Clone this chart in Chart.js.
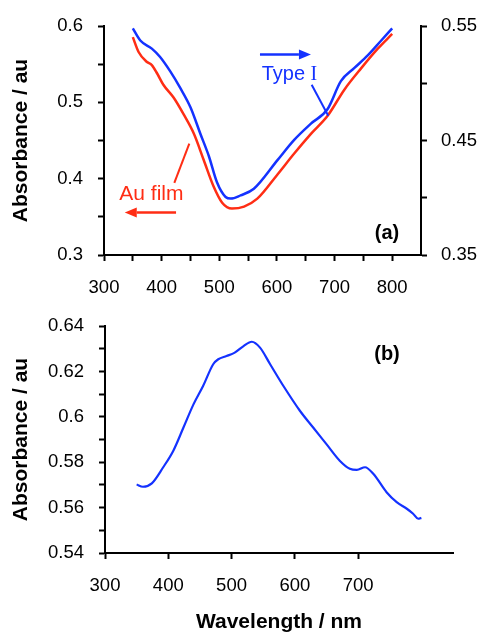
<!DOCTYPE html>
<html>
<head>
<meta charset="utf-8">
<script src="https://cdn.jsdelivr.net/npm/chart.js@4.4.0/dist/chart.umd.min.js"></script>
<style>
  html, body { margin: 0; padding: 0; background: #fff; }
  #wrap { position: relative; width: 479px; height: 633px; overflow: hidden; background: #fff; }
  canvas { position: absolute; left: 0; }
  #chartA { top: 0; }
  #chartB { top: 300px; }
</style>
</head>
<body>
<div id="wrap">
  <canvas id="chartA" width="479" height="300"></canvas>
  <canvas id="chartB" width="479" height="333"></canvas>
</div>
<script>
// ---- (a) Au film (left axis) and Type I (right axis) spectra ----
const auFilmNm  = [350, 360, 374, 383, 392, 403, 421, 438, 456, 473, 490, 505, 522, 543, 566, 601, 630, 659, 688, 717, 746, 775, 800];
const auFilmAbs = [0.5855, 0.5661, 0.5533, 0.5489, 0.5382, 0.5231, 0.5060, 0.4845, 0.4588, 0.4245, 0.3901, 0.3686, 0.3609, 0.3635, 0.3738, 0.4056, 0.4330, 0.4588, 0.4825, 0.5167, 0.5446, 0.5704, 0.5897];

const typeINm  = [350, 363, 383, 397, 415, 432, 450, 467, 482, 496, 511, 520, 537, 560, 601, 630, 659, 688, 711, 734, 758, 781, 800];
const typeIAbs = [0.5480, 0.5374, 0.5303, 0.5232, 0.5104, 0.4962, 0.4791, 0.4562, 0.4363, 0.4135, 0.4007, 0.3993, 0.4021, 0.4079, 0.4329, 0.4506, 0.4648, 0.4776, 0.5019, 0.5132, 0.5246, 0.5374, 0.5480];

// ---- (b) difference spectrum ----
const specBNm  = [350, 360, 374, 392, 408, 424, 440, 455, 471, 479, 492, 505, 519, 532, 545, 561, 582, 608, 629, 650, 671, 687, 698, 711, 724, 745, 761, 777, 787, 795, 800];
const specBAbs = [0.5702, 0.5692, 0.5707, 0.5778, 0.5851, 0.5953, 0.6056, 0.6136, 0.6232, 0.6254, 0.6268, 0.6283, 0.6312, 0.6331, 0.6305, 0.6232, 0.6136, 0.6027, 0.5953, 0.5880, 0.5807, 0.5771, 0.5766, 0.5778, 0.5749, 0.5668, 0.5624, 0.5595, 0.5573, 0.5551, 0.5555];

// ---- tick labels ----
const xTickLabels      = [300, 400, 500, 600, 700, 800];
const leftTickLabelsA  = [0.3, 0.4, 0.5, 0.6];
const rightTickLabelsA = [0.35, 0.45, 0.55];
const leftTickLabelsB  = [0.54, 0.56, 0.58, 0.6, 0.62, 0.64];

const FONT = "'Liberation Sans', Arial, Helvetica, sans-serif";
const SERIF = "'Liberation Serif', 'Times New Roman', serif";
const BLUE = '#1432ff';
const RED = '#ff2d14';

const pairs = (xs, ys) => xs.map((x, i) => ({ x, y: ys[i] }));
const labelFrom = list => v => {
  const hit = list.find(l => Math.abs(l - v) < 1e-6);
  return hit === undefined ? '' : String(hit);
};

const tickFont = { family: FONT, size: 18.5 };
const titleFont = { family: FONT, size: 21, weight: 'bold', lineHeight: 1 };
const gridStyle = { display: true, drawOnChartArea: false, drawTicks: true, tickLength: 6, tickWidth: 2, tickColor: '#000' };
const borderStyle = { display: true, color: '#000', width: 2 };

function drawArrow(ctx, x1, y1, x2, y2, color, width) {
  const ang = Math.atan2(y2 - y1, x2 - x1);
  const head = 12, half = 5;
  const bx = x2 - head * Math.cos(ang), by = y2 - head * Math.sin(ang);
  ctx.save();
  ctx.strokeStyle = color; ctx.fillStyle = color; ctx.lineWidth = width;
  ctx.beginPath(); ctx.moveTo(x1, y1); ctx.lineTo(bx, by); ctx.stroke();
  ctx.beginPath();
  ctx.moveTo(x2, y2);
  ctx.lineTo(bx + half * Math.sin(ang), by - half * Math.cos(ang));
  ctx.lineTo(bx - half * Math.sin(ang), by + half * Math.cos(ang));
  ctx.closePath(); ctx.fill();
  ctx.restore();
}
function drawLine(ctx, x1, y1, x2, y2, color, width) {
  ctx.save();
  ctx.strokeStyle = color; ctx.lineWidth = width;
  ctx.beginPath(); ctx.moveTo(x1, y1); ctx.lineTo(x2, y2); ctx.stroke();
  ctx.restore();
}

// Labels, arrows and leader lines of panel (a), placed in data units
const annotateA = {
  id: 'annotateA',
  afterDatasetsDraw(chart) {
    const { ctx, scales } = chart;
    const X = v => scales.x.getPixelForValue(v);
    const Y = v => scales.y.getPixelForValue(v);
    ctx.save();
    // Au film
    ctx.font = `21px ${FONT}`;
    ctx.fillStyle = RED; ctx.textAlign = 'left'; ctx.textBaseline = 'alphabetic';
    ctx.fillText('Au film', X(326.5), Y(0.372));
    drawArrow(ctx, X(425), Y(0.3558), X(336), Y(0.3558), RED, 2.5);
    drawLine(ctx, X(448), Y(0.4459), X(422), Y(0.3945), RED, 2);
    // Type I
    ctx.fillStyle = BLUE;
    ctx.font = `20px ${FONT}`;
    const tx = X(573.6), ty = Y(0.5292);
    ctx.fillText('Type ', tx, ty);
    const w = ctx.measureText('Type ').width;
    ctx.font = `20px ${SERIF}`;
    ctx.fillText('I', tx + w, ty);
    drawArrow(ctx, X(570.6), Y(0.5627), X(659), Y(0.5627), BLUE, 2.5);
    drawLine(ctx, X(660.3), Y(0.5231), X(689.1), Y(0.4825), BLUE, 2);
    // panel tag
    ctx.fillStyle = '#000';
    ctx.font = `bold 20px ${FONT}`;
    ctx.textAlign = 'center'; ctx.textBaseline = 'middle';
    ctx.fillText('(a)', X(791), Y(0.3283));
    ctx.restore();
  }
};

const annotateB = {
  id: 'annotateB',
  afterDatasetsDraw(chart) {
    const { ctx, scales } = chart;
    ctx.save();
    ctx.fillStyle = '#000';
    ctx.font = `bold 20px ${FONT}`;
    ctx.textAlign = 'center'; ctx.textBaseline = 'middle';
    ctx.fillText('(b)', scales.x.getPixelForValue(745.7), scales.y.getPixelForValue(0.6277));
    ctx.restore();
  }
};

const common = {
  responsive: false,
  animation: false,
  events: [],
  plugins: { legend: { display: false }, tooltip: { enabled: false } }
};
const lineDs = (data, color, extra) => Object.assign({
  data, borderColor: color, borderWidth: 2.5, pointRadius: 0, fill: false, cubicInterpolationMode: 'monotone'
}, extra || {});

new Chart(document.getElementById('chartA'), {
  type: 'line',
  data: {
    datasets: [
      lineDs(pairs(auFilmNm, auFilmAbs), RED, { label: 'Au film', yAxisID: 'y' }),
      lineDs(pairs(typeINm, typeIAbs), BLUE, { label: 'Type I', yAxisID: 'y1' })
    ]
  },
  options: Object.assign({}, common, {
    layout: { padding: { left: 0, right: 0, top: 22, bottom: 0 } },
    scales: {
      x: {
        type: 'linear', min: 300, max: 850,
        ticks: { stepSize: 50, autoSkip: false, maxRotation: 0, padding: 16, color: '#000', font: tickFont, callback: labelFrom(xTickLabels) },
        afterBuildTicks: s => { s.ticks = s.ticks.filter(t => t.value <= 800); },
        grid: gridStyle, border: borderStyle,
        afterFit: s => { s.height = 45; }
      },
      y: {
        type: 'linear', position: 'left', min: 0.3, max: 0.6,
        ticks: { stepSize: 0.05, autoSkip: false, padding: 15, color: '#000', font: tickFont, callback: labelFrom(leftTickLabelsA) },
        grid: gridStyle, border: borderStyle,
        title: { display: true, text: 'Absorbance / au', color: '#000', font: titleFont, padding: { top: 10.5, bottom: 0 } },
        afterFit: s => { s.width = 104; }
      },
      y1: {
        type: 'linear', position: 'right', min: 0.35, max: 0.55,
        ticks: { stepSize: 0.05, autoSkip: false, padding: 14, color: '#000', font: tickFont, callback: labelFrom(rightTickLabelsA) },
        grid: gridStyle, border: borderStyle,
        afterFit: s => { s.width = 58; }
      }
    }
  }),
  plugins: [annotateA]
});

new Chart(document.getElementById('chartB'), {
  type: 'line',
  data: {
    datasets: [ lineDs(pairs(specBNm, specBAbs), BLUE, { label: '(b)', borderWidth: 2.2 }) ]
  },
  options: Object.assign({}, common, {
    layout: { padding: { left: 0, right: 26, top: 25, bottom: 0 } },
    scales: {
      x: {
        type: 'linear', min: 300, max: 850,
        ticks: { stepSize: 100, autoSkip: false, maxRotation: 0, padding: 16, color: '#000', font: tickFont, callback: labelFrom(xTickLabels) },
        afterBuildTicks: s => { s.ticks = s.ticks.filter(t => t.value <= 800); },
        grid: gridStyle, border: borderStyle,
        title: { display: true, text: 'Wavelength / nm', color: '#000', font: titleFont, padding: { top: 0, bottom: 0 } },
        afterFit: s => { s.height = 80; }
      },
      y: {
        type: 'linear', position: 'left', min: 0.54, max: 0.64,
        ticks: { stepSize: 0.01, autoSkip: false, padding: 15, color: '#000', font: tickFont, callback: labelFrom(leftTickLabelsB) },
        grid: gridStyle, border: borderStyle,
        title: { display: true, text: 'Absorbance / au', color: '#000', font: titleFont, padding: { top: 10.5, bottom: 0 } },
        afterFit: s => { s.width = 105; }
      }
    }
  }),
  plugins: [annotateB]
});
</script>
</body>
</html>
